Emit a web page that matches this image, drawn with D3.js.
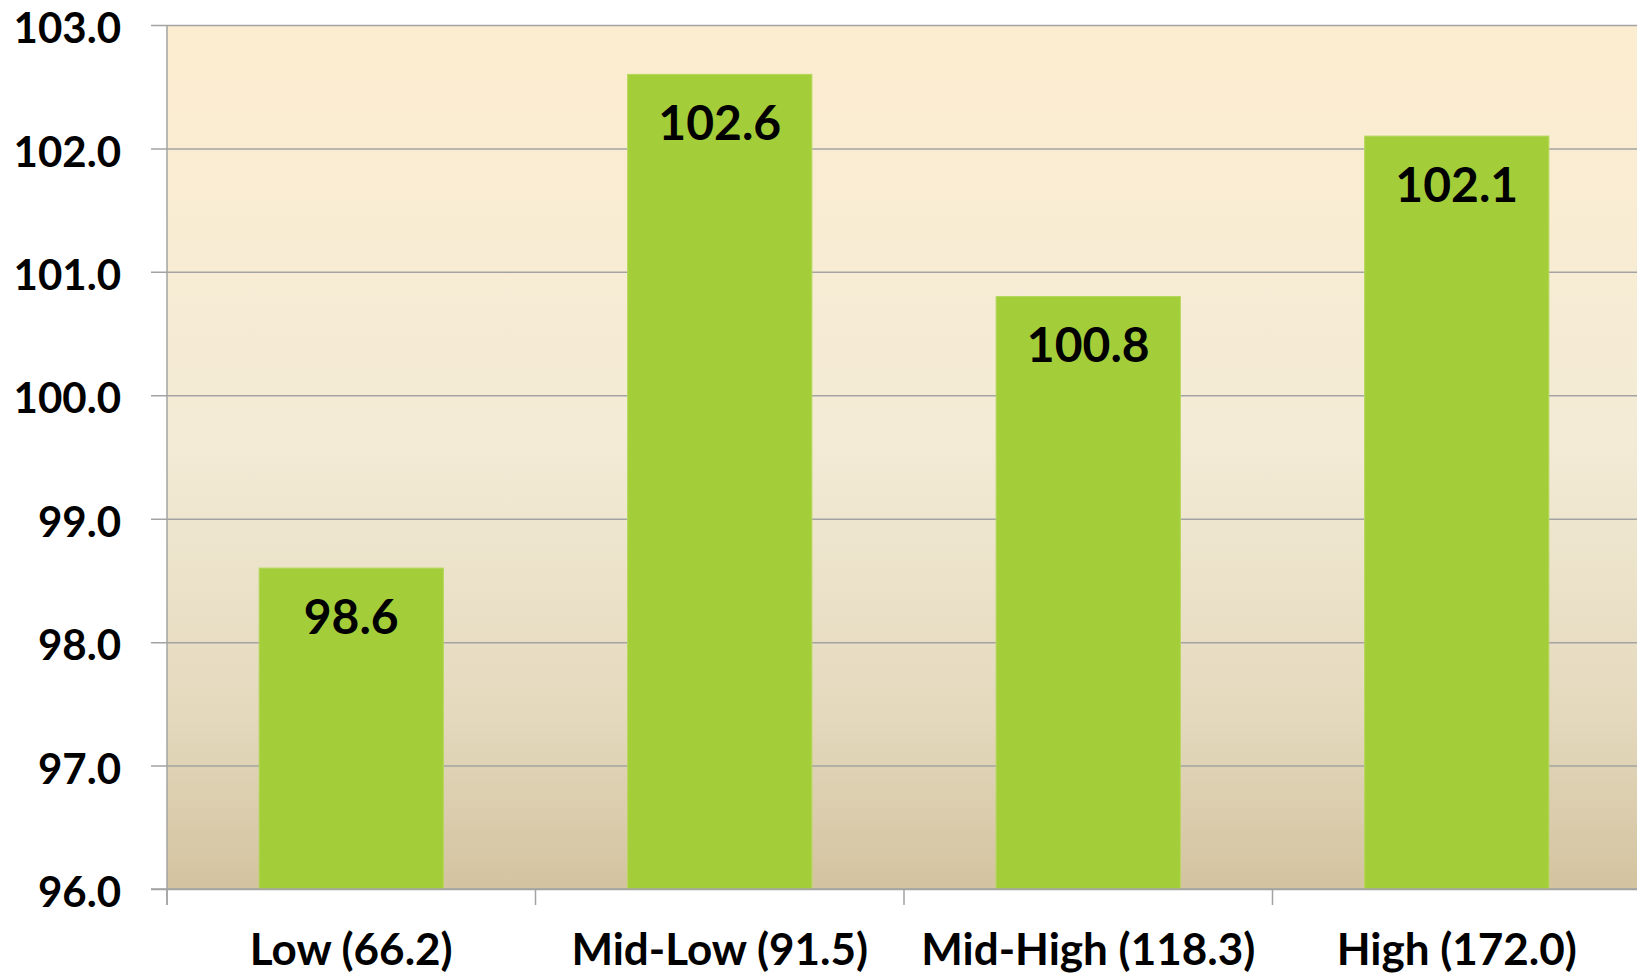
<!DOCTYPE html>
<html>
<head>
<meta charset="utf-8">
<script src="https://cdn.jsdelivr.net/npm/d3@7"></script>
<style>
  html, body { margin: 0; padding: 0; background: #ffffff; overflow: hidden; }
  svg { display: block; }
  text { font-family: "Lato", "Open Sans", sans-serif; font-weight: 700; fill: #000; }
</style>
</head>
<body>
<svg id="chart" width="1637" height="976"></svg>
<script>
// Index values by group (group mean shown in parentheses)
const categories = ["Low (66.2)", "Mid-Low (91.5)", "Mid-High (118.3)", "High (172.0)"];
const values = [98.6, 102.6, 100.8, 102.1];
const yTicks = [96, 97, 98, 99, 100, 101, 102, 103];

const svg = d3.select("#chart");
const plotLeft = 167, plotRight = 1641, plotTop = 25, plotBottom = 889;

const x = d3.scaleBand().domain(categories).range([plotLeft, plotRight]).paddingInner(0.5).paddingOuter(0.25);
const y = d3.scaleLinear().domain([96, 103]).range([plotBottom, plotTop]);

// plot-area background gradient
const defs = svg.append("defs");
const grad = defs.append("linearGradient").attr("id", "bg").attr("x1", 0).attr("y1", 0).attr("x2", 0).attr("y2", 1);
grad.append("stop").attr("offset", "0%").attr("stop-color", "#fdedd0");
grad.append("stop").attr("offset", "48%").attr("stop-color", "#f3ebd6");
grad.append("stop").attr("offset", "80%").attr("stop-color", "#e4d9bd");
grad.append("stop").attr("offset", "100%").attr("stop-color", "#d3c3a0");

svg.append("rect")
  .attr("x", plotLeft).attr("y", plotTop)
  .attr("width", plotRight - plotLeft).attr("height", plotBottom - plotTop)
  .attr("fill", "url(#bg)");

// horizontal gridlines with short ticks to the left of the axis
const yAxis = d3.axisLeft(y).tickValues(yTicks).tickSize(-(plotRight - plotLeft)).tickFormat(d3.format(".1f")).tickPadding(46);
const yg = svg.append("g").attr("transform", `translate(${plotLeft},0)`).call(yAxis);
yg.select(".domain").remove();
yg.selectAll(".tick line").attr("stroke", "#a3a3a3").attr("stroke-width", 1.5).attr("x1", -16);
yg.selectAll(".tick text").attr("font-size", 42).attr("dy", "0.42em").style("font-family", "Lato").style("font-weight", 700).attr("fill", "#000");

// bars
svg.append("g").selectAll("rect").data(values).join("rect")
  .attr("x", (d, i) => x(categories[i]))
  .attr("y", d => y(d))
  .attr("width", x.bandwidth())
  .attr("height", d => y(96) - y(d))
  .attr("fill", "#a4cd3a")
  .attr("stroke", "#b5d85c").attr("stroke-width", 1);

// value labels inside the bar tops
svg.append("g").selectAll("text").data(values).join("text")
  .attr("x", (d, i) => x(categories[i]) + x.bandwidth() / 2)
  .attr("y", d => y(d) + 49)
  .attr("dy", "0.35em")
  .attr("text-anchor", "middle")
  .attr("font-size", 48)
  .text(d => d3.format(".1f")(d));

// axes lines
svg.append("line").attr("x1", plotLeft).attr("x2", plotLeft).attr("y1", plotTop).attr("y2", plotBottom + 16)
  .attr("stroke", "#a3a3a3").attr("stroke-width", 1.5);
svg.append("line").attr("x1", plotLeft - 16).attr("x2", plotRight).attr("y1", plotBottom).attr("y2", plotBottom)
  .attr("stroke", "#a3a3a3").attr("stroke-width", 1.5);

// category tick marks at band boundaries
const xStep = x.step();
const bounds = d3.range(categories.length + 1).map(i => plotLeft + i * xStep);
svg.append("g").selectAll("line").data(bounds).join("line")
  .attr("x1", d => d).attr("x2", d => d)
  .attr("y1", plotBottom).attr("y2", plotBottom + 16)
  .attr("stroke", "#a3a3a3").attr("stroke-width", 1.5);

// category labels
svg.append("g").selectAll("text").data(categories).join("text")
  .attr("x", d => x(d) + x.bandwidth() / 2)
  .attr("y", 950)
  .attr("dy", "0.35em")
  .attr("text-anchor", "middle")
  .attr("font-size", 44)
  .text(d => d);
</script>
</body>
</html>
